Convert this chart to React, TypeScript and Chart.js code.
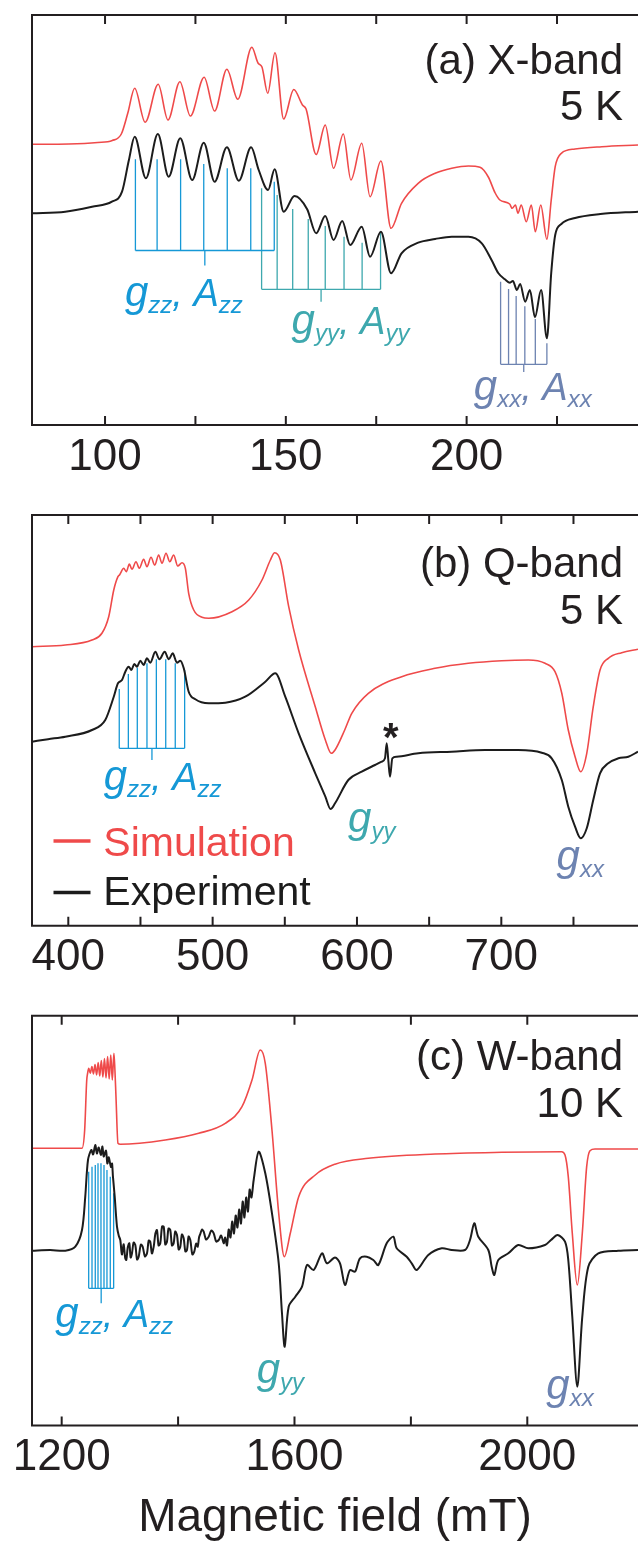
import React, { useEffect, useRef } from 'react';
import { Chart, registerables } from 'chart.js';
Chart.register(...registerables);

const FONT = '"Liberation Sans", Arial, Helvetica, sans-serif';
const RED = '#ef4a4a';
const BLACK = '#1c1c1c';
const BLUE = '#1598d6';
const TEAL = '#3ea8ae';
const SLATE = '#6d83b1';
const AXIS = '#231f20';

type Pt = [number, number];

// ---------- Panel (a) X-band ----------
const A_TICKS = [100, 125, 150, 175, 200, 225];
const A_MAJOR = [100, 150, 200];
const A_SIM: Pt[] = [[79.8, 280.7], [90, 281], [98, 282.5], [102, 284.5], [104.5, 291], [106.3, 312], [108.2, 336.7], [111.1, 302.7], [114.7, 340.7], [117.4, 305], [120.7, 343.3], [123.6, 309], [127.4, 347.7], [130.3, 314], [133.7, 355.7], [136.7, 325.7], [140.6, 377.7], [142.3, 362], [143.4, 358], [145.0, 331.7], [147.0, 372.3], [149.4, 306], [152.2, 335.5], [154.6, 320], [155.6, 316], [158.4, 270.5], [160.9, 300], [163.2, 256.7], [165.9, 291], [168.0, 245], [171.0, 281.7], [173.3, 228.3], [176.3, 264], [179.1, 196.7], [182.0, 221.7], [186.6, 241.7], [191.3, 251.7], [195.9, 256.7], [200.5, 259], [203.7, 257.7], [206.0, 248], [207.9, 232], [209.2, 225], [211.9, 221], [212.6, 216.7], [213.5, 220], [214.2, 211.7], [215.1, 220], [216.5, 203.3], [217.9, 220], [219.0, 193.3], [220.5, 220], [222.2, 185.7], [223.4, 225], [224.5, 258.3], [226.2, 271.7], [230, 276], [237.4, 278.3], [247.4, 280]];
const A_EXP: Pt[] = [[79.8, 211.7], [89, 213.3], [96.4, 218.3], [101.9, 223.3], [104.7, 233.3], [106.6, 265], [108.2, 288.3], [111.3, 246.7], [114.6, 291], [117.6, 248.3], [120.8, 286.7], [124.1, 245], [127.3, 282.3], [130.3, 243.3], [133.7, 277.7], [137.0, 244.3], [140.4, 277.7], [142.5, 255], [145.1, 235], [146.9, 255.7], [149.4, 213.3], [152.4, 229], [155.9, 215.7], [158.4, 191.7], [160.9, 209], [163.2, 185], [165.6, 204], [167.8, 180], [171.0, 198.3], [173.3, 168.3], [176.3, 193.3], [179.1, 151.7], [182.0, 171.7], [186.6, 182.3], [191.3, 186], [195.9, 188.3], [200.5, 188.3], [204.2, 181.7], [206.9, 165], [208.8, 151.7], [210.6, 145.7], [212.0, 142.3], [212.8, 144], [213.9, 135], [214.8, 141], [216.2, 123.3], [217.5, 135], [218.9, 107.7], [220.6, 135], [222.2, 86.7], [223.4, 152], [224.5, 190], [226.2, 201], [230, 207], [237, 211], [247.4, 213.3]];
const A_ZZ_X = [108.4, 114.4, 120.9, 127.3, 133.8, 140.3, 146.8];
const A_ZZ_TOP = [265.7, 265.7, 265.7, 261, 256.7, 256.7, 243.3];
const A_YY_X = [143.3, 147.6, 151.9, 156.2, 160.9, 166.1, 171.1, 176.2];
const A_YY_TOP = [236.7, 230, 216, 206, 199, 188.3, 182.3, 193];
const A_XX_X = [209.4, 211.6, 213.7, 216.1, 219.0, 222.2];
const A_XX_TOP = [143.3, 136, 129, 118.7, 106, 81.7];

// ---------- Panel (b) Q-band ----------
const B_TICKS = [400, 450, 500, 550, 600, 650, 700, 750];
const B_MAJOR = [400, 500, 600, 700];
const B_SIM: Pt[] = [[374.85, 279], [397.9, 280.7], [416.4, 285.7], [423.3, 292.4], [428.0, 309], [431.5, 335.7], [434.4, 349], [435.6, 351], [438.4, 357.4], [440.2, 354], [442.3, 361.7], [444.1, 356.4], [446.9, 364], [449.2, 357.4], [452.2, 366.4], [454.5, 359], [457.3, 368.4], [459.9, 360.7], [462.6, 370.7], [464.9, 362.4], [467.7, 372.4], [470.3, 364], [473.0, 370.7], [475.8, 359.7], [478.8, 363], [481.1, 357.4], [483.4, 332.4], [486.9, 315.7], [492.6, 308.4], [497.3, 307.4], [513.4, 314], [525.0, 325.7], [534.2, 345.7], [540.0, 365.7], [543.0, 373], [546.9, 365.7], [552.7, 319], [559.6, 275.7], [571.1, 219], [578.1, 185.7], [582.2, 172.4], [584.8, 175.7], [591.5, 195.7], [596.4, 212.4], [607.9, 232.4], [631.0, 249], [654.1, 257.4], [677.1, 262.4], [700.3, 265], [718.7, 265.7], [730.3, 262.4], [737.2, 254], [741.9, 232.4], [746.4, 195.7], [751.1, 169], [755.0, 154], [759.2, 172.4], [763.7, 219], [768.4, 255.7], [774.1, 267.4], [783.4, 273], [794.7, 276.4]];
const B_EXP: Pt[] = [[374.85, 184], [386, 186.5], [397.9, 189], [416.4, 195.7], [425.6, 205.7], [431.5, 229], [434.4, 242.4], [437.2, 245.7], [439.5, 254], [441.8, 259], [443.7, 255.7], [445.7, 261.7], [447.6, 259], [449.9, 265], [452.2, 260.7], [454.5, 267.4], [456.8, 263], [460.3, 274], [463.1, 266.4], [466.8, 274], [469.6, 266.4], [472.3, 272.4], [475.3, 263], [477.6, 265], [480.0, 257.4], [483.4, 234], [488.0, 226.4], [497.3, 222.4], [508.8, 223], [522.6, 229], [536.5, 244], [543.4, 252.4], [550.3, 229], [559.6, 192.4], [571.1, 152.4], [578.1, 129], [581.7, 116.7], [584.8, 122.4], [594.0, 145.7], [603.3, 154], [612.5, 160.7], [617.1, 164], [619.4, 167.4], [620.6, 182.4], [621.7, 165.7], [622.9, 149], [624.5, 167.4], [627.5, 169], [642.5, 172.4], [665.6, 174], [688.7, 175.7], [711.8, 175.7], [728.0, 173], [734.9, 167.4], [741.9, 145.7], [746.4, 119], [751.1, 99], [755.0, 87.4], [759.2, 97.4], [763.7, 125.7], [768.4, 152.4], [774.1, 162.4], [781.1, 167.4], [788.0, 169], [794.7, 174]];
const B_ZZ_X = [435.3, 441.6, 447.8, 454.5, 461.0, 467.5, 474.1, 480.6];
const B_ZZ_TOP = [236.7, 251.7, 258, 262.4, 266.4, 266.4, 262.4, 255.7];

// ---------- Panel (c) W-band ----------
const C_TICKS = [1200, 1400, 1600, 1800, 2000];
const C_MAJOR = [1200, 1600, 2000];
const C_SIM: Pt[] = [[1149, 277.2], [1234.9, 277.2], [1239.5, 295.5], [1243.0, 345], [1244.5, 352], [1246.5, 357.2], [1249.2, 352.2], [1251.9, 359], [1254.6, 351.5], [1257.3, 361], [1260.0, 350.5], [1262.7, 363], [1265.4, 349.5], [1268.1, 365], [1270.8, 348.5], [1273.5, 367], [1276.2, 347.5], [1278.9, 369], [1281.6, 346.5], [1284.3, 370.5], [1287.0, 345.5], [1289.7, 372.2], [1291.5, 355], [1293.3, 328.8], [1296.7, 282.2], [1300.7, 281.2], [1378, 285.5], [1435.4, 292.2], [1481.1, 302.2], [1509.8, 318.8], [1527, 345.5], [1541.2, 375.5], [1549.8, 362.2], [1561.3, 295.5], [1572.9, 212.2], [1582.5, 168.8], [1592.8, 192.2], [1607.2, 228.8], [1635.7, 250.5], [1669.6, 261.3], [1726.8, 267.2], [1841.4, 271.5], [1956, 273.2], [2059.1, 273.8], [2064.8, 270.5], [2070.4, 248.8], [2077.3, 192.2], [2085.9, 140.5], [2094.5, 192.2], [2102, 258.8], [2107.7, 274.8], [2116.3, 276.5], [2190.2, 276.5]];
const C_EXP: Pt[] = [[1149, 174.8], [1180, 175.5], [1206.2, 174.8], [1223.4, 178.8], [1234.9, 195.5], [1240.5, 228.8], [1245.2, 265.5], [1250.9, 275.5], [1254, 271], [1257.7, 280.5], [1260.5, 272], [1263.6, 278], [1267.5, 270.5], [1270, 279], [1272.2, 269], [1276.1, 274.8], [1278.5, 262], [1280.8, 268.2], [1284.7, 258.5], [1286.5, 262], [1288.1, 248.8], [1291.1, 228.8], [1295, 198.8], [1298, 190], [1300.7, 185.5], [1303.5, 171], [1306.5, 181.2], [1309, 168], [1311, 165.5], [1313.5, 178], [1316.2, 182.2], [1318.5, 168], [1320.8, 172.2], [1323.5, 183], [1326.5, 180.5], [1329.5, 166], [1332.3, 168.8], [1336, 181], [1339.2, 178.8], [1343, 169], [1346.6, 172.2], [1349.5, 185], [1352.2, 183.8], [1355, 172], [1358.1, 178.8], [1361, 192], [1363.7, 195.5], [1366.5, 180], [1369.4, 182.2], [1372.5, 199], [1375.3, 198.8], [1378, 181], [1380.9, 183.8], [1383.5, 197], [1386.6, 195.5], [1389.5, 180], [1392.4, 182.2], [1395, 194], [1398.1, 190.5], [1401, 176], [1403.8, 178.8], [1406.5, 191], [1409.6, 187.2], [1412.5, 174], [1415.3, 175.5], [1418, 189], [1421, 185.5], [1424.5, 171], [1427.8, 173.8], [1431, 182], [1433.7, 178.8], [1436, 188], [1438.1, 191.5], [1441, 196], [1444, 193.8], [1448, 186], [1452.6, 188.8], [1457, 195], [1461.2, 192.2], [1465.5, 184], [1469.8, 185.5], [1474, 190], [1478.4, 182.2], [1481, 188], [1484, 180], [1487, 196], [1490, 188], [1493, 204], [1496, 192], [1499, 210], [1502, 198], [1505, 216], [1508, 202], [1511, 224], [1514, 208], [1517, 228], [1520, 214], [1523, 236], [1526, 228], [1529.9, 245.5], [1538.5, 273.8], [1549.8, 252.2], [1561.3, 212.2], [1572.9, 162.2], [1578.5, 112.2], [1583.2, 78.8], [1590, 118.8], [1601.4, 128.8], [1612.9, 138.8], [1621.5, 160.5], [1633, 155.5], [1647.3, 172.2], [1655.8, 162.2], [1669.6, 168], [1678.2, 162.2], [1686.8, 140.5], [1695.4, 155.5], [1704, 153.8], [1712.5, 167.2], [1724, 168.8], [1735.4, 165.5], [1744, 160.5], [1758.4, 182.2], [1769.8, 188.8], [1775.6, 177.2], [1792.8, 168.8], [1801.4, 162.2], [1810, 155.5], [1829.9, 170.5], [1852.9, 177.2], [1870.1, 175.5], [1893, 175.5], [1901.5, 185.5], [1908.9, 202.2], [1915.8, 188.8], [1933, 175.5], [1938.8, 158.8], [1943.3, 150.5], [1950.2, 165.5], [1967.4, 172.2], [1984.5, 180.5], [2001.7, 177.2], [2030.4, 180.5], [2040.7, 185.5], [2052.2, 190.5], [2064.8, 183.8], [2070.4, 165.5], [2077.3, 108.8], [2085.9, 38.8], [2094.5, 108.8], [2104.8, 158.8], [2122, 172.2], [2156.4, 174.8], [2190.2, 175.5]];
const C_ZZ_X = [1246.4, 1252.1, 1257.7, 1262.4, 1267.5, 1272.7, 1277.8, 1283.5, 1289.3];
const C_ZZ_TOP = [253.8, 258.8, 260.5, 262.2, 262.2, 260.5, 255.5, 248.8, 232.2];

type Part = { t: string; size: number; dy?: number };
const sub = (t: string): Part => ({ t, size: 24, dy: 7 });
const LBL_ZZ: Part[] = [{ t: 'g', size: 42 }, sub('zz'), { t: ', ', size: 38 }, { t: 'A', size: 38 }, sub('zz')];
const LBL_YY: Part[] = [{ t: 'g', size: 42 }, sub('yy'), { t: ', ', size: 38 }, { t: 'A', size: 38 }, sub('yy')];
const LBL_XX: Part[] = [{ t: 'g', size: 42 }, sub('xx'), { t: ', ', size: 38 }, { t: 'A', size: 38 }, sub('xx')];
const LBL_GYY: Part[] = [{ t: 'g', size: 42 }, sub('yy')];
const LBL_GXX: Part[] = [{ t: 'g', size: 42 }, sub('xx')];

function sticks(xs: number[], tops: number[], bar: number, tickEnd: number) {
  const pts: { x: number; y: number | null }[] = [];
  xs.forEach((x, i) => { pts.push({ x, y: tops[i] }, { x, y: bar }, { x, y: null }); });
  const c = (xs[0] + xs[xs.length - 1]) / 2;
  pts.push({ x: xs[0], y: bar }, { x: xs[xs.length - 1], y: bar }, { x: c, y: null }, { x: c, y: bar }, { x: c, y: tickEnd });
  return pts;
}

function drawParts(ctx: CanvasRenderingContext2D, x: number, y: number, parts: Part[], color: string) {
  ctx.fillStyle = color;
  ctx.textAlign = 'left';
  ctx.textBaseline = 'alphabetic';
  let cx = x;
  parts.forEach(p => {
    ctx.font = `italic ${p.size}px ${FONT}`;
    ctx.fillText(p.t, cx, y + (p.dy || 0));
    cx += ctx.measureText(p.t).width;
  });
}

interface PanelCfg {
  top: number; height: number; padTop: number; axisH: number;
  min: number; max: number; yMax: number;
  ticks: number[]; major: number[];
  sim: Pt[]; exp: Pt[]; expTension?: number;
  stickSets: { pts: { x: number; y: number | null }[]; color: string }[];
  labels: { x: number; y: number; parts: Part[]; color: string }[];
  titles: [string, number][];
  legend?: boolean; star?: [number, number]; xTitle?: string;
}

const PANELS: PanelCfg[] = [
  {
    top: 0, height: 505, padTop: 15, axisH: 80, min: 79.8, max: 247.4, yMax: 410,
    ticks: A_TICKS, major: A_MAJOR, sim: A_SIM, exp: A_EXP,
    stickSets: [
      { pts: sticks(A_ZZ_X, A_ZZ_TOP, 174.5, 159.5), color: BLUE },
      { pts: sticks(A_YY_X, A_YY_TOP, 135.7, 123.3), color: TEAL },
      { pts: sticks(A_XX_X, A_XX_TOP, 60.7, 53), color: SLATE },
    ],
    labels: [
      { x: 105.5, y: 119, parts: LBL_ZZ, color: BLUE },
      { x: 151.6, y: 91, parts: LBL_YY, color: TEAL },
      { x: 202.0, y: 25, parts: LBL_XX, color: SLATE },
    ],
    titles: [['(a) X-band', 59], ['5 K', 105]],
  },
  {
    top: 505, height: 500, padTop: 10, axisH: 79.3, min: 374.85, max: 794.7, yMax: 410.7,
    ticks: B_TICKS, major: B_MAJOR, sim: B_SIM, exp: B_EXP,
    stickSets: [{ pts: sticks(B_ZZ_X, B_ZZ_TOP, 177.4, 165.7), color: BLUE }],
    labels: [
      { x: 424.5, y: 135.7, parts: LBL_ZZ, color: BLUE },
      { x: 593.8, y: 94, parts: LBL_GYY, color: TEAL },
      { x: 738.3, y: 55.7, parts: LBL_GXX, color: SLATE },
    ],
    titles: [['(b) Q-band', 61.5], ['5 K', 109]],
    legend: true, star: [623.4, 174.7],
  },
  {
    top: 1005, height: 541, padTop: 10.7, axisH: 120.5, min: 1149, max: 2190.2, yMax: 409.8,
    ticks: C_TICKS, major: C_MAJOR, sim: C_SIM, exp: C_EXP, expTension: 0.3,
    stickSets: [{ pts: sticks(C_ZZ_X, C_ZZ_TOP, 137.2, 122.2), color: BLUE }],
    labels: [
      { x: 1189, y: 98.8, parts: LBL_ZZ, color: BLUE },
      { x: 1535, y: 42.5, parts: LBL_GYY, color: TEAL },
      { x: 2032.6, y: 27, parts: LBL_GXX, color: SLATE },
    ],
    titles: [['(c) W-band', 54], ['10 K', 101]],
    xTitle: 'Magnetic field (mT)',
  },
];

function framePlugin(p: PanelCfg) {
  return {
    id: 'frame',
    afterDraw(chart: any) {
      const { ctx, chartArea: ca, scales } = chart;
      const x = scales.x, y = scales.y;
      ctx.save();
      ctx.strokeStyle = AXIS;
      ctx.lineWidth = 2;
      p.ticks.forEach(v => {
        const px = x.getPixelForValue(v);
        ctx.beginPath();
        ctx.moveTo(px, ca.bottom); ctx.lineTo(px, ca.bottom - 9);
        ctx.moveTo(px, ca.top); ctx.lineTo(px, ca.top + 9);
        ctx.stroke();
      });
      ctx.beginPath();
      ctx.moveTo(chart.width + 2, ca.top);
      ctx.lineTo(ca.left, ca.top);
      ctx.lineTo(ca.left, ca.bottom);
      ctx.lineTo(chart.width + 2, ca.bottom);
      ctx.stroke();

      ctx.fillStyle = AXIS;
      ctx.font = `42px ${FONT}`;
      ctx.textAlign = 'right';
      ctx.textBaseline = 'alphabetic';
      p.titles.forEach(([t, dy]) => ctx.fillText(t, ca.right - 15, ca.top + dy));

      p.labels.forEach(l => drawParts(ctx, x.getPixelForValue(l.x), y.getPixelForValue(l.y), l.parts, l.color));

      if (p.star) {
        ctx.fillStyle = AXIS;
        ctx.font = `bold 40px ${FONT}`;
        ctx.textAlign = 'center';
        ctx.fillText('*', x.getPixelForValue(p.star[0]), y.getPixelForValue(p.star[1]));
      }

      if (p.legend) {
        const ds = chart.data.datasets;
        const rows: [number, number][] = [[326, 340.5], [377.5, 389.5]];
        rows.forEach(([ly, by], i) => {
          ctx.strokeStyle = ds[i].borderColor;
          ctx.lineWidth = 3.5;
          ctx.beginPath();
          ctx.moveTo(ca.left + 21.5, ca.top + ly);
          ctx.lineTo(ca.left + 58.5, ca.top + ly);
          ctx.stroke();
          ctx.fillStyle = ds[i].borderColor;
          ctx.font = `41px ${FONT}`;
          ctx.textAlign = 'left';
          ctx.fillText(ds[i].label, ca.left + 71.3, ca.top + by);
        });
      }
      ctx.restore();
    },
  };
}

function makeConfig(p: PanelCfg): any {
  const line = (pts: Pt[], color: string, w: number, label: string, tension?: number) => ({
    label, data: pts.map(([x, y]) => ({ x, y })), borderColor: color, borderWidth: w,
    pointRadius: 0, fill: false,
    ...(tension !== undefined ? { tension } : { cubicInterpolationMode: 'monotone' }),
    borderJoinStyle: 'round',
  });
  return {
    type: 'line',
    data: {
      datasets: [
        line(p.sim, RED, 1.6, 'Simulation'),
        line(p.exp, BLACK, 2, 'Experiment', p.expTension),
        ...p.stickSets.map(s => ({
          label: 'sticks', data: s.pts, borderColor: s.color, borderWidth: 1.3,
          pointRadius: 0, fill: false, tension: 0, spanGaps: false,
        })),
      ],
    },
    options: {
      animation: false, responsive: false, events: [],
      layout: { padding: { left: 32, right: 0, top: p.padTop, bottom: 0 } },
      plugins: { legend: { display: false }, tooltip: { enabled: false } },
      scales: {
        x: {
          type: 'linear', min: p.min, max: p.max,
          afterBuildTicks: (s: any) => { s.ticks = p.ticks.map(v => ({ value: v })); },
          afterFit: (s: any) => { s.height = p.axisH; },
          grid: { display: false, drawTicks: false },
          border: { display: false },
          ticks: {
            autoSkip: false, maxRotation: 0, padding: 6, color: AXIS,
            font: { family: FONT, size: 44 },
            callback: (v: number) => (p.major.includes(v) ? String(v) : ''),
          },
          title: p.xTitle
            ? { display: true, text: p.xTitle, color: AXIS, font: { family: FONT, size: 46 }, padding: { top: 0, bottom: 0 } }
            : { display: false },
        },
        y: { display: false, min: 0, max: p.yMax },
      },
    },
    plugins: [framePlugin(p)],
  };
}

function Panel({ cfg }: { cfg: PanelCfg }) {
  const ref = useRef<HTMLCanvasElement>(null);
  useEffect(() => {
    const chart = new Chart(ref.current as HTMLCanvasElement, makeConfig(cfg));
    return () => chart.destroy();
  }, [cfg]);
  return (
    <canvas
      ref={ref}
      width={638}
      height={cfg.height}
      style={{ position: 'absolute', left: 0, top: cfg.top, width: 638, height: cfg.height, display: 'block' }}
    />
  );
}

export default function App() {
  return (
    <div style={{ position: 'absolute', left: 0, top: 0, width: 638, height: 1546, background: '#fff', overflow: 'hidden' }}>
      {PANELS.map((p, i) => <Panel key={i} cfg={p} />)}
    </div>
  );
}
